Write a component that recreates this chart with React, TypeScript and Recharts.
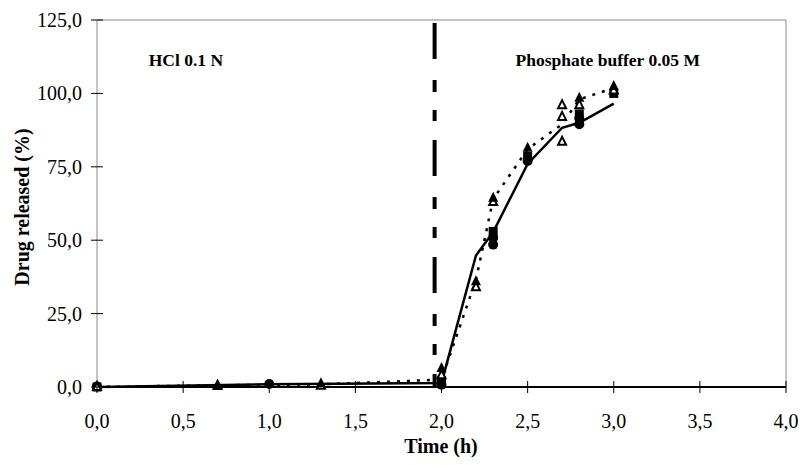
import React from "react";
import {
  ComposedChart,
  Line,
  Scatter,
  XAxis,
  YAxis,
  ReferenceLine,
  ReferenceDot,
} from "recharts";

// time points (h) and % drug released
const solidTimes = [0, 1.0, 2.0, 2.2, 2.3, 2.5, 2.7, 2.8, 3.0];
const solidValues = [0, 0.9, 1.4, 44.8, 52.8, 76, 88.3, 90, 96.5];

const dottedTimes = [0, 0.7, 1.3, 2.0, 2.2, 2.3, 2.5, 2.7, 2.8, 3.0];
const dottedValues = [0, 0.6, 0.9, 2.5, 36.5, 64, 81, 89.5, 98, 101.8];

const circleTimes = [0, 1.0, 2.0, 2.3, 2.3, 2.5, 2.8, 2.8];
const circleValues = [0.2, 1.0, 0.8, 48.5, 50.8, 77, 89.5, 91.5];

const squareTimes = [0, 2.0, 2.3, 2.5, 2.8, 3.0];
const squareValues = [0, 2.2, 53, 78.5, 93, 100];

const filledTriTimes = [0.7, 1.3, 2.0, 2.2, 2.3, 2.5, 2.8, 3.0];
const filledTriValues = [0.8, 1.3, 6.5, 36, 64.5, 81.5, 98.5, 102.5];

const openTriTimes = [0, 0.7, 1.3, 2.0, 2.2, 2.3, 2.7, 2.7, 2.7, 2.8, 3.0];
const openTriValues = [0, 0.3, 0.4, 4, 34, 63, 96, 92, 83.5, 96, 101];

const xTicks = [0, 0.5, 1.0, 1.5, 2.0, 2.5, 3.0, 3.5, 4.0];
const yTicks = [0, 25, 50, 75, 100, 125];

const mediumChange = 1.96; // HCl -> phosphate buffer switch

const toPoints = (xs: number[], ys: number[]) =>
  xs.map((x, i) => ({ x, y: ys[i] }));

const fmt = (v: number) => v.toFixed(1).replace(".", ",");

const FONT = "'Liberation Serif', 'Times New Roman', serif";

const YTick = (props: any) => {
  const { x, y, payload } = props;
  return (
    <g>
      <line x1={x - 6} x2={x + 6} y1={y} y2={y} stroke="#000" strokeWidth={1} />
      <text
        x={x - 15}
        y={y}
        dy="0.35em"
        textAnchor="end"
        fontFamily={FONT}
        fontSize={20}
        fill="#000"
      >
        {fmt(payload.value)}
      </text>
    </g>
  );
};

const XTick = (props: any) => {
  const { x, y, payload } = props;
  return (
    <g>
      <line x1={x} x2={x} y1={y - 6} y2={y + 6} stroke="#000" strokeWidth={1} />
      <text
        x={x}
        y={y + 34}
        dy="0.35em"
        textAnchor="middle"
        fontFamily={FONT}
        fontSize={20}
        fill="#000"
      >
        {fmt(payload.value)}
      </text>
    </g>
  );
};

const Dot = (p: any) => <circle cx={p.cx} cy={p.cy} r={5} fill="#000" />;
const Square = (p: any) => (
  <rect x={p.cx - 4.5} y={p.cy - 4.5} width={9} height={9} fill="#000" />
);
const Tri = (p: any) => (
  <polygon
    points={`${p.cx},${p.cy - 6} ${p.cx - 5},${p.cy + 4} ${p.cx + 5},${p.cy + 4}`}
    fill="#000"
  />
);
const OpenTri = (p: any) => (
  <polygon
    points={`${p.cx},${p.cy - 5} ${p.cx - 4},${p.cy + 3} ${p.cx + 4},${p.cy + 3}`}
    fill="#fff"
    stroke="#000"
    strokeWidth={2}
  />
);

const TextLabel = (text: string) => (props: any) => {
  const { viewBox } = props;
  return (
    <text
      x={viewBox.x}
      y={viewBox.y}
      dy="0.35em"
      textAnchor="start"
      fontFamily={FONT}
      fontSize={17.5}
      fontWeight="bold"
      fill="#000"
    >
      {text}
    </text>
  );
};

export default function App() {
  return (
    <div style={{ position: "absolute", left: 0, top: 0, background: "#fff" }}>
      <ComposedChart
        width={802}
        height={465}
        margin={{ top: 20, right: 16, left: 0, bottom: 0 }}
      >
        <XAxis
          type="number"
          dataKey="x"
          domain={[0, 4]}
          ticks={xTicks}
          interval={0}
          tick={<XTick />}
          tickLine={false}
          tickSize={0}
          tickMargin={0}
          height={78}
          axisLine={{ stroke: "#000", strokeWidth: 2 }}
          label={() => (
            <text
              x={441}
              y={446}
              dy="0.35em"
              textAnchor="middle"
              fontFamily={FONT}
              fontSize={20}
              fontWeight="bold"
              fill="#000"
            >
              Time (h)
            </text>
          )}
        />
        <YAxis
          type="number"
          dataKey="y"
          domain={[0, 125]}
          ticks={yTicks}
          interval={0}
          tick={<YTick />}
          tickLine={false}
          tickSize={0}
          tickMargin={0}
          width={97}
          axisLine={{ stroke: "#888", strokeWidth: 1 }}
          label={() => (
            <text
              x={22}
              y={207}
              transform="rotate(-90 22 207)"
              dy="0.35em"
              textAnchor="middle"
              fontFamily={FONT}
              fontSize={20}
              fontWeight="bold"
              fill="#000"
            >
              Drug released (%)
            </text>
          )}
        />
        <ReferenceLine y={125} stroke="#888" strokeWidth={1} />
        <ReferenceLine x={4} stroke="#888" strokeWidth={1} />
        <ReferenceLine
          segment={[
            { x: mediumChange, y: 124 },
            { x: mediumChange, y: 0 },
          ]}
          stroke="#000"
          strokeWidth={4}
          strokeDasharray="36 21 12 18 11 19"
        />
        <ReferenceDot
          x={0.3}
          y={111.5}
          r={0}
          fill="none"
          stroke="none"
          label={TextLabel("HCl 0.1 N")}
        />
        <ReferenceDot
          x={2.43}
          y={111.5}
          r={0}
          fill="none"
          stroke="none"
          label={TextLabel("Phosphate buffer 0.05 M")}
        />
        <Line
          data={toPoints(dottedTimes, dottedValues)}
          dataKey="y"
          type="linear"
          stroke="#000"
          strokeWidth={2.5}
          strokeDasharray="3 7"
          dot={false}
          activeDot={false}
          isAnimationActive={false}
        />
        <Line
          data={toPoints(solidTimes, solidValues)}
          dataKey="y"
          type="linear"
          stroke="#000"
          strokeWidth={2.5}
          dot={false}
          activeDot={false}
          isAnimationActive={false}
        />
        <Scatter
          data={toPoints(circleTimes, circleValues)}
          dataKey="y"
          shape={Dot}
          isAnimationActive={false}
        />
        <Scatter
          data={toPoints(squareTimes, squareValues)}
          dataKey="y"
          shape={Square}
          isAnimationActive={false}
        />
        <Scatter
          data={toPoints(openTriTimes, openTriValues)}
          dataKey="y"
          shape={OpenTri}
          isAnimationActive={false}
        />
        <Scatter
          data={toPoints(filledTriTimes, filledTriValues)}
          dataKey="y"
          shape={Tri}
          isAnimationActive={false}
        />
      </ComposedChart>
    </div>
  );
}
